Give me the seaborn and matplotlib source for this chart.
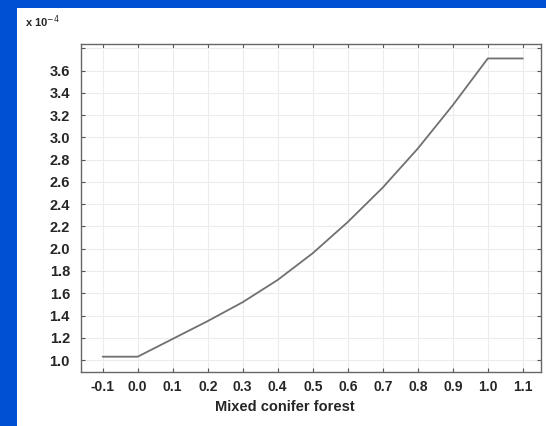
import matplotlib
matplotlib.use("Agg")
import matplotlib.pyplot as plt
import seaborn as sns
import pandas as pd
from matplotlib.patches import Rectangle

# values (y in units of 1e-4)
forest = [-0.1, 0.0, 0.1, 0.2, 0.3, 0.4, 0.5, 0.6, 0.7, 0.8, 0.9, 1.0, 1.1]
response = [1.03, 1.03, 1.19, 1.35, 1.52, 1.72, 1.96, 2.24, 2.55, 2.90, 3.29, 3.71, 3.71]

xticks = [-0.1, 0.0, 0.1, 0.2, 0.3, 0.4, 0.5, 0.6, 0.7, 0.8, 0.9, 1.0, 1.1]
yticks = [1.0, 1.2, 1.4, 1.6, 1.8, 2.0, 2.2, 2.4, 2.6, 2.8, 3.0, 3.2, 3.4, 3.6, 3.8]

df = pd.DataFrame({"forest": forest, "response": response})

sns.set_style("white")
plt.rcParams['font.family'] = ['Liberation Sans', 'DejaVu Sans']

fig = plt.figure(figsize=(5.46, 4.26), dpi=100)
fig.patch.set_facecolor('#0050d4')
# white slide panel behind the plot
panel = Rectangle((17 / 546, 0), 1, 1 - 8 / 426, transform=fig.transFigure,
                  facecolor='white', edgecolor='none', zorder=-10)
fig.add_artist(panel)

ax = fig.add_axes([81 / 546, 1 - 371.7 / 426, 460 / 546, 327.7 / 426])
ax.set_facecolor('white')

sns.lineplot(data=df, x="forest", y="response", ax=ax, color='#707070', linewidth=1.3)

ax.set_xlim(-0.162, 1.152)
ax.set_ylim(0.895, 3.84)
ax.set_xticks(xticks)
ax.set_yticks(yticks)
ax.set_xticklabels([f"{v:.1f}" for v in xticks], fontweight='bold', fontsize=10)
ax.set_yticklabels([f"{v:.1f}" if v < 3.7 else "" for v in yticks], fontweight='bold', fontsize=10.5)
ax.tick_params(direction='in', length=3, width=0.8, color='#555555',
               top=True, right=True, bottom=True, left=True)
ax.tick_params(axis='x', pad=6)
ax.tick_params(axis='y', pad=8)

ax.grid(True, color='#ececec', linewidth=0.8)
for s in ax.spines.values():
    s.set_color('#666666')
    s.set_linewidth(1.0)

ax.set_xlabel("Mixed conifer forest", fontweight='bold', fontsize=10.5)
ax.set_ylabel("")
ax.xaxis.set_label_coords(0.443, -0.085)

fig.text(25 / 546, 1 - 22 / 426, r"x 10$^{-4}$", fontsize=8, fontweight='bold',
         va='center', ha='left')

fig.savefig("out.png", dpi=100, facecolor=fig.get_facecolor())
